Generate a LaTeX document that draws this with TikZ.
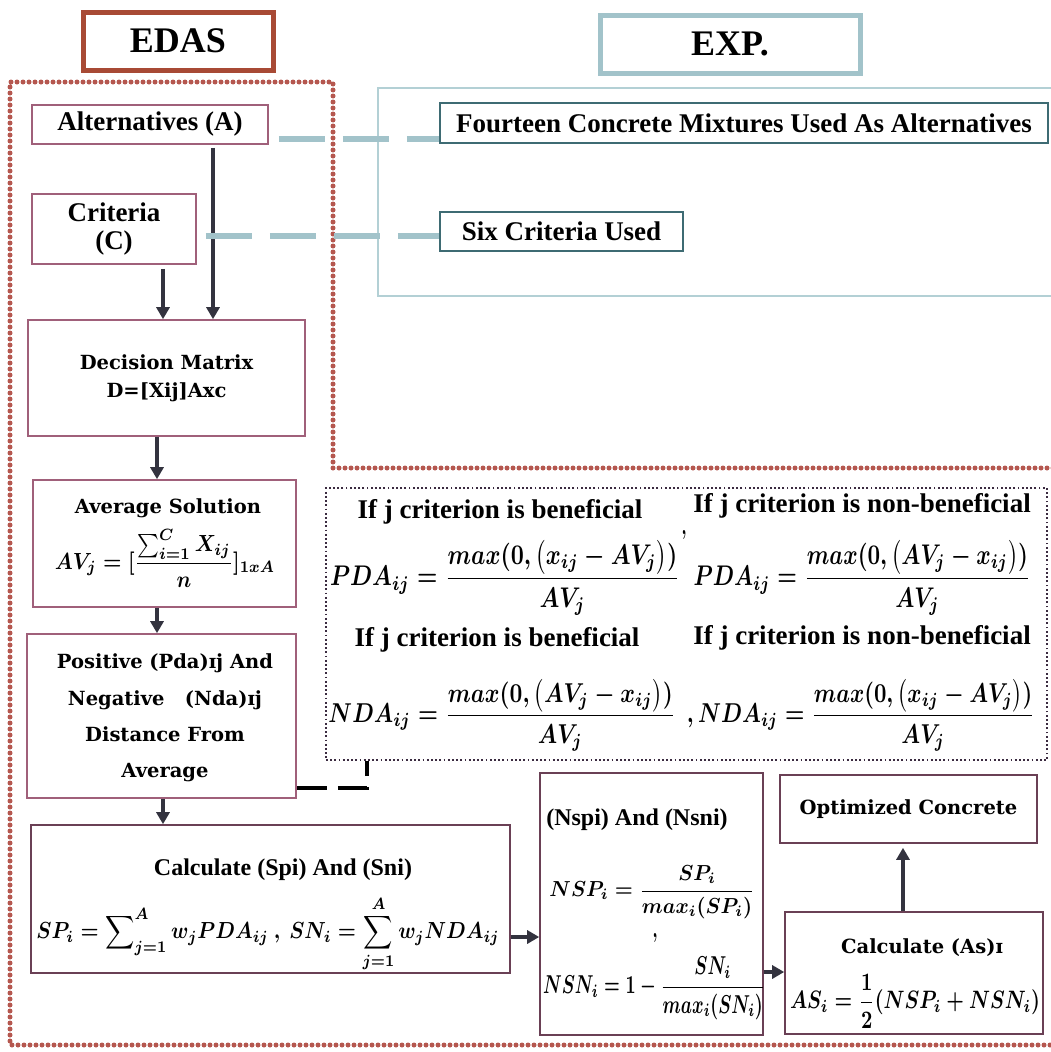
\documentclass[tikz,border=0pt]{standalone}
\usepackage{fontspec}
\usepackage{graphicx}
\usepackage{amsmath}
\setmainfont{Liberation Serif}
\newfontfamily\wideserif{DejaVu Serif}
\usetikzlibrary{arrows.meta,calc}

\definecolor{edasred}{HTML}{A84A35}
\definecolor{expblue}{HTML}{A2C3CA}
\definecolor{panelblue}{HTML}{B3D0D5}
\definecolor{framered}{HTML}{B5574F}
\definecolor{boxc}{HTML}{A0607A}
\definecolor{boxdark}{HTML}{6A4055}
\definecolor{tealbox}{HTML}{3E6B73}
\definecolor{arrowc}{HTML}{33333F}
\definecolor{dotc}{HTML}{3B2B40}

% bold display formula stretched to a given width and total height
\newcommand{\fitmath}[3]{\resizebox*{#1}{#2}{\boldmath$\displaystyle #3$}}

\tikzset{
  titlebox/.style={line width=5pt, fill=white, inner sep=0pt, font=\fontsize{36}{40}\selectfont\bfseries},
  flowbox/.style={draw=boxc, line width=1.6pt, fill=white, inner sep=0pt, align=center},
  darkbox/.style={draw=boxdark, line width=1.6pt, fill=white, inner sep=0pt, align=center},
  expbox/.style={draw=tealbox, line width=1.6pt, fill=white, inner sep=0pt},
  label/.style={inner sep=0pt, align=center},
  narrowfont/.style={font=\fontsize{27}{28}\selectfont\bfseries},
  widefont/.style={font=\wideserif\fontsize{19.5}{28}\selectfont\bfseries},
  ruletext/.style={font=\fontsize{27}{30}\selectfont\bfseries},
  headtext/.style={font=\fontsize{24}{28}\selectfont\bfseries},
  flowarrow/.style={draw=arrowc, line width=3.5pt, -{Triangle[length=12pt,width=13pt]}},
  link/.style={draw=expblue, line width=6pt, dash pattern=on 46pt off 18pt},
  blacklink/.style={draw=black, line width=4pt, dash pattern=on 30pt off 11pt},
  frame/.style={draw=framered, line width=5pt, line cap=round, dash pattern=on 0pt off 6pt},
  formulaframe/.style={draw=dotc, line width=1.8pt, dash pattern=on 1.8pt off 2.4pt},
}

\begin{document}
\begin{tikzpicture}[x=1pt,y=-1pt]
\useasboundingbox[fill=white] (0,0) rectangle (1051,1052);

% outer frames
\draw[draw=panelblue, line width=2.2pt] (1053,88) -- (378,88) -- (378,296) -- (1053,296);
\draw[frame] (1053,468) -- (333,468) -- (333,82) -- (10,82) -- (10,1045) -- (1053,1045);

% titles
\node[titlebox, draw=edasred, minimum width=190, minimum height=58] (edas) at (178,41) {EDAS};
\node[titlebox, draw=expblue, minimum width=260, minimum height=58] (exp) at (730,44) {EXP.};

% input boxes
\node[flowbox, narrowfont, minimum width=236, minimum height=39] (alt) at (150,124.5) {Alternatives (A)};
\node[flowbox, narrowfont, minimum width=164, minimum height=70] (crit) at (114,229) {Criteria\\(C)};
\node[expbox, narrowfont, minimum width=608, minimum height=40] (four) at (744,123) {Fourteen Concrete Mixtures Used As Alternatives};
\node[expbox, narrowfont, minimum width=243, minimum height=39] (six) at (561.5,231.5) {Six Criteria Used};

% EDAS steps
\node[flowbox, widefont, minimum width=277, minimum height=116] (dec) at (166.5,378) {Decision Matrix\\D=[Xij]Axc};
\node[flowbox, minimum width=263, minimum height=127] (avg) at (164.5,543.5) {};
\node[label, widefont] (avgT) at (168,508) {Average Solution};
\node[label] (avgF) at (165,558) {\fitmath{220pt}{58pt}{AV_j=[\frac{\sum_{i=1}^{C}X_{ij}}{n}]_{1xA}}};
\node[flowbox, minimum width=269, minimum height=164] (pos) at (161.5,716) {};
\node[label, font=\wideserif\fontsize{19.5}{36.3}\selectfont\bfseries] (posT) at (165,718) {Positive (Pda)ɪj And\\Negative\ \ \ (Nda)ɪj\\Distance From\\Average};

\node[darkbox, minimum width=479, minimum height=148] (calc) at (270.5,899) {};
\node[label, headtext] (calcT) at (283,870) {Calculate (Spi) And (Sni)};
\node[label] (calcF) at (268,934) {\fitmath{463pt}{76pt}{SP_i=\sum\nolimits_{j=1}^{A}w_jPDA_{ij}\ ,\ SN_i=\sum_{j=1}^{A}w_jNDA_{ij}}};

\node[darkbox, minimum width=223, minimum height=262] (nsp) at (651.5,904) {};
\node[label, headtext] (nspT) at (637,820) {(Nspi) And (Nsni)};
\node[label] (nspF) at (652,892) {\fitmath{205pt}{53pt}{NSP_i=\frac{SP_i}{max_i(SP_i)}}};
\node[label] (nspC) at (655,938) {\fitmath{5pt}{9pt}{,}};
\node[label] (nsnF) at (654,988) {\fitmath{222pt}{63pt}{NSN_i=1-\frac{SN_i}{max_i(SN_i)}}};

\node[darkbox, widefont, minimum width=257, minimum height=68] (opt) at (908.5,809) {Optimized Concrete};
\node[darkbox, minimum width=258, minimum height=122] (as) at (914,973) {};
\node[label, widefont] (asT) at (922,948) {Calculate (As)ɪ};
\node[label] (asF) at (915,1001) {\fitmath{250pt}{54pt}{AS_i=\frac{1}{2}(NSP_i+NSN_i)}};

% deviation formulas
\node[formulaframe, fill=white, minimum width=721, minimum height=272, inner sep=0pt] (dev) at (686.5,624) {};
\node[label, ruletext] (benP) at (500,512) {If j criterion is beneficial};
\node[label, ruletext] (nbenP) at (862,506) {If j criterion is non-beneficial};
\node[label] (pda1) at (505,578) {\fitmath{350pt}{75pt}{PDA_{ij}=\frac{max(0,\big(x_{ij}-AV_j\big))}{AV_j}}};
\node[label] (pdaC) at (684,535) {\fitmath{5pt}{9pt}{,}};
\node[label] (pda2) at (862,578) {\fitmath{337pt}{75pt}{PDA_{ij}=\frac{max(0,\big(AV_j-x_{ij}\big))}{AV_j}}};
\node[label, ruletext] (benN) at (497,640) {If j criterion is beneficial};
\node[label, ruletext] (nbenN) at (862,638) {If j criterion is non-beneficial};
\node[label] (nda1) at (502,715) {\fitmath{347pt}{72pt}{NDA_{ij}=\frac{max(0,\big(AV_j-x_{ij}\big))}{AV_j}}};
\node[label] (nda2) at (861,715) {\fitmath{348pt}{72pt}{,NDA_{ij}=\frac{max(0,\big(x_{ij}-AV_j\big))}{AV_j}}};

% arrow columns and rows
\coordinate (xa) at (213,0);
\coordinate (xc) at (163,0);
\coordinate (xm) at (157,0);
\coordinate (xo) at (903,0);
\coordinate (ys) at (0,937);
\coordinate (yn) at (0,972);
\coordinate (yd) at (0,788);
\coordinate (xd) at (367,0);
\coordinate (yl) at (0,139);
\coordinate (yk) at (0,236);

\draw[flowarrow] ($(alt.south -| xa)+(0,3)$) -- (dec.north -| xa);
\draw[flowarrow] ($(crit.south -| xc)+(0,4)$) -- (dec.north -| xc);
\draw[flowarrow] (dec.south -| xm) -- (avg.north -| xm);
\draw[flowarrow] (avg.south -| xm) -- (pos.north -| xm);
\draw[flowarrow] (pos.south -| xc) -- (calc.north -| xc);
\draw[flowarrow] (calc.east |- ys) -- (nsp.west |- ys);
\draw[flowarrow] (nsp.east |- yn) -- (as.west |- yn);
\draw[flowarrow] (as.north -| xo) -- ($(opt.south -| xo)+(0,4)$);

% links to the experimental programme
\draw[link] ($(alt.east |- yl)+(10,0)$) -- (four.west |- yl);
\draw[link] ($(crit.east |- yk)+(9,0)$) -- (six.west |- yk);
\draw[blacklink] (pos.east |- yd) -- (xd |- yd) -- (dev.south -| xd);
\end{tikzpicture}
\end{document}
